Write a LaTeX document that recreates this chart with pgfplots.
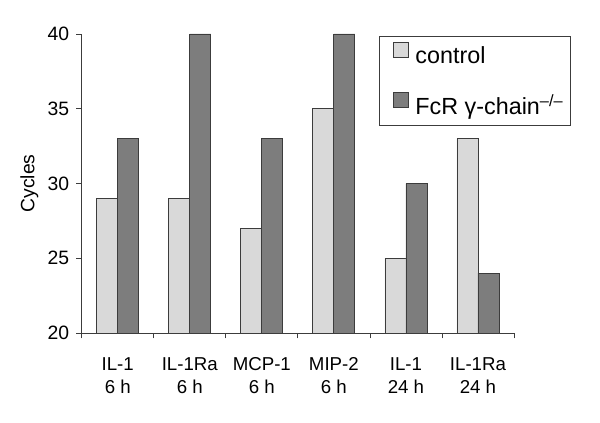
\documentclass[border=0pt]{standalone}
\usepackage{pgfplots}
\pgfplotsset{compat=1.18}
\usepackage{fontspec}
\setmainfont{Liberation Sans}
\definecolor{lightbar}{RGB}{217,217,217}
\definecolor{darkbar}{RGB}{125,125,125}
\definecolor{edge}{RGB}{60,60,60}
\begin{document}
\begin{tikzpicture}
\begin{axis}[
  name=ax,
  scale only axis,
  width=324.2pt, height=224.25pt,
  ymin=20, ymax=40,
  ytick={20,25,30,35,40},
  xmin=-0.5, xmax=5.5,
  xtick={-0.5,0.5,1.5,2.5,3.5,4.5,5.5},
  xticklabels={},
  extra x ticks={0,1,2,3,4,5},
  extra x tick labels={{IL-1\\6 h},{IL-1Ra\\6 h},{MCP-1\\6 h},{MIP-2\\6 h},{IL-1\\24 h},{IL-1Ra\\24 h}},
  extra x tick style={major tick length=0pt,
    tick label style={align=center, font=\fontsize{14pt}{17pt}\selectfont, yshift=-15pt}},
  y tick label style={font=\fontsize{14.5pt}{17pt}\selectfont, xshift=-2pt},
  /pgf/number format/assume math mode=true,
  axis x line*=bottom, axis y line*=left,
  axis line style={edge, line width=0.6pt, -},
  major tick length=4pt,
  tick align=outside,
  tick style={edge, line width=0.6pt},
  ylabel={Cycles},
  ylabel style={font=\fontsize{14.5pt}{17pt}\selectfont},
  ybar=0pt,
  bar width=15.75pt,
  legend style={
    at={(1.132,0.993)}, anchor=north east,
    draw=edge, line width=0.6pt,
    font=\fontsize{17.5pt}{21pt}\selectfont,
    inner xsep=3.5pt, inner ysep=4.5pt,
    row sep=17.5pt,
    cells={anchor=west},
  },
  legend image code/.code={\path[draw=none,fill=none] (0pt,0pt) -- (7.5pt,0pt);\draw[#1, draw=edge, line width=0.5pt] (7.5pt,-0.8pt) rectangle (18.5pt,10.2pt);},
]
\addplot[fill=lightbar, draw=edge, line width=0.6pt] coordinates {(0,29) (1,29) (2,27) (3,35) (4,25) (5,33)};
\addplot[fill=darkbar, draw=edge, line width=0.6pt] coordinates {(0,33) (1,40) (2,33) (3,40) (4,30) (5,24)};
\legend{\hspace{3pt}control, \hspace{3pt}FcR γ-chain\textsuperscript{–/–}}
\end{axis}
\pgfresetboundingbox
\path ([shift={(-61.3pt,-66.75pt)}]ax.south west) rectangle ([shift={(388.7pt,249.75pt)}]ax.south west);
\end{tikzpicture}
\end{document}
